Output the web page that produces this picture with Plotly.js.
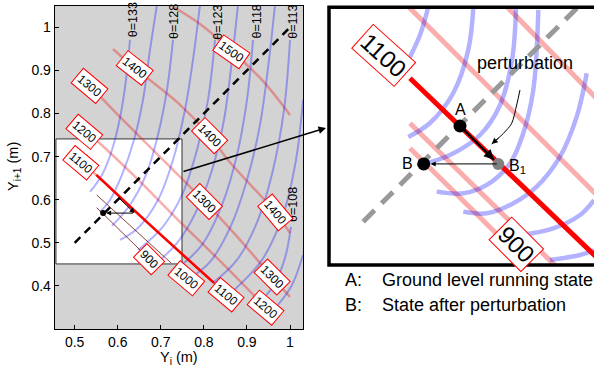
<!DOCTYPE html>
<html><head><meta charset="utf-8">
<script src="https://cdn.plot.ly/plotly-3.0.1.min.js"></script>
<style>html,body{margin:0;padding:0;background:#fff}</style>
</head><body><div id="g" style="width:594px;height:371px"></div>
<script>
// ---------- main plot: energy contours (pale red) ----------
const e1500X=[0.7213,0.791,0.8676,0.935,1.0], e1500Y=[1.052,1.0079,0.9429,0.878,0.7968];
const e1400X=[0.5889,0.6393,0.7399,0.8142,0.856,0.9652,1.0], e1400Y=[0.9499,0.9058,0.8246,0.748,0.6923,0.5717,0.523];
const e1300X=[0.5077,0.5355,0.5959,0.6981,0.8026,0.8839,0.9582,1.0], e1300Y=[0.8872,0.864,0.8014,0.6993,0.5949,0.5067,0.4209,0.3745];
const e1200X=[0.5007,0.5581,0.6431,0.7399,0.8421,0.9443], e1200Y=[0.7805,0.7311,0.6506,0.5531,0.4534,0.349];
const e1100X=[0.4937,0.5153,0.5502,0.6749,0.8235,0.8537], e1100Y=[0.6993,0.6861,0.6575,0.5415,0.407,0.3791];
const bold1100X=[0.5502,0.6749,0.8235], bold1100Y=[0.6575,0.5415,0.407];
const e1000X=[0.5511,0.7236], e1000Y=[0.6111,0.4534];
const e900X=[0.5511,0.6517], e900Y=[0.5817,0.4835];
// ---------- main plot: theta contours (pale blue) ----------
const thetaCurves=[
 {x:[0.6284,0.6191,0.6052,0.5866,0.5634,0.5355], y:[0.9708,0.878,0.7898,0.7155,0.6575,0.6181]},
 {x:[0.6911,0.6749,0.6586,0.6377,0.6098,0.582,0.5588], y:[1.052,0.9476,0.8316,0.7387,0.6575,0.5995,0.5717]},
 {x:[0.7283,0.7143,0.6934,0.6656,0.6284,0.5866], y:[0.9708,0.8548,0.7503,0.6575,0.5879,0.5392]},
 {x:[0.791,0.7747,0.7561,0.7283,0.6934,0.647,0.6052], y:[1.052,0.9244,0.8084,0.6923,0.5995,0.5346,0.5067]},
 {x:[0.8258,0.8096,0.784,0.7492,0.7027,0.647], y:[0.9708,0.8316,0.7155,0.6111,0.5346,0.4835]},
 {x:[0.8792,0.8653,0.8467,0.8189,0.7817,0.7399,0.6934], y:[1.052,0.9244,0.7851,0.6691,0.5717,0.5021,0.4557]},
 {x:[0.9141,0.9001,0.8769,0.8421,0.7956,0.7399], y:[0.9708,0.8316,0.704,0.5879,0.4951,0.4418]},
 {x:[0.9652,0.9512,0.9303,0.9001,0.8607,0.8142,0.7724], y:[1.052,0.9244,0.7736,0.6459,0.5346,0.4557,0.4209]},
 {x:[1.0,0.9861,0.9605,0.9257,0.8769,0.8212], y:[0.9708,0.8084,0.6691,0.5531,0.4603,0.407]},
 {x:[1.0302,1.0139,0.9837,0.935,0.8653], y:[0.8316,0.6923,0.5647,0.4603,0.3861]},
 {x:[1.0023,0.9884,0.9628,0.935], y:[0.5369,0.465,0.4023,0.3675]},
 {x:[1.0302,1.0046,0.9721], y:[0.4719,0.4023,0.3559]}
];
const thetaLabels=['θ=133','θ=128','θ=123','θ=118','θ=113','θ=108'];
const thetaLabX=[0.6361,0.729,0.8328,0.9227,1.007,1.007];
const thetaLabY=[1.0172,1.0132,1.0132,1.0132,1.0132,0.5879];
const eLabels=['1500','1400','1400','1400','1300','1300','1300','1200','1200','1100','1100','1000','900'];
const eLabX=[0.8646,0.6393,0.8142,0.9652,0.5348,0.8026,0.9589,0.5232,0.9442,0.5153,0.852,0.7585,0.6719];
const eLabY=[0.9436,0.9051,0.748,0.5717,0.864,0.5956,0.4216,0.758,0.349,0.6861,0.3791,0.4186,0.4619];
const eLabAng=[35,38,45,50,40,45,45,40,40,40,40,40,45];
const diagX=[0.5,1.0], diagY=[0.5,1.0];
const ptA=[0.601,0.606], ptB1=[0.639,0.569], ptB=[0.566,0.569];
const insetBox=[0.4565,0.7492,0.451,0.7411];
// ---------- zoom panel ----------
const zRed1X=[0.55,0.73], zRed1Y=[0.7216,0.5416];
const zRed2X=[0.645,0.73], zRed2Y=[0.7161,0.6291];
const zRed3X=[0.5595,0.6898,0.71], zRed3Y=[0.6075,0.4802,0.46];
const zRed4X=[0.5595,0.6656,0.69], zRed4Y=[0.5847,0.4802,0.456];
const zBoldX=[0.5595,0.605,0.6398,0.7216,0.735], zBoldY=[0.6484,0.605,0.5705,0.4923,0.48];
const zBlue=[
 {x:[0.5759,0.5686,0.5595], y:[0.7123,0.6877,0.6677]},
 {x:[0.6171,0.6125,0.5989,0.5777,0.558], y:[0.7123,0.6741,0.635,0.6077,0.595]},
 {x:[0.6559,0.6523,0.6414,0.6232,0.5959,0.5686], y:[0.7123,0.665,0.6241,0.5968,0.5786,0.5695]},
 {x:[0.6762,0.6716,0.6625,0.6505,0.6293,0.608,0.5838], y:[0.7105,0.6377,0.5984,0.5711,0.5514,0.5438,0.5453]},
 {x:[0.7202,0.7111,0.6959,0.6747,0.6535,0.6293,0.608], y:[0.6529,0.6135,0.5771,0.5498,0.5347,0.5256,0.5271]},
 {x:[0.6595,0.6898,0.7141,0.7268], y:[0.5059,0.512,0.5241,0.5377]},
 {x:[0.6868,0.7141,0.7268], y:[0.4832,0.4877,0.492]}
];
const zDiagX=[0.517,0.73], zDiagY=[0.518,0.731];
const zA=[0.605,0.605], zB=[0.572,0.5705], zB1=[0.6398,0.5705];
const pertX=[0.6595,0.6565,0.652,0.6474,0.6414,0.6338], pertY=[0.6377,0.6241,0.6075,0.6014,0.5953,0.5886];

const pr='rgba(240,0,0,0.32)', pb='rgba(0,0,255,0.3)';
const traces=[];
function ln(x,y,color,w,ax,extra){const t={x:x,y:y,mode:'lines',line:{color:color,width:w,shape:'spline'},xaxis:ax[0],yaxis:ax[1],hoverinfo:'skip'};Object.assign(t.line,extra||{});traces.push(t);}
const M=['x','y'], Z=['x2','y2'];
[[e1500X,e1500Y],[e1400X,e1400Y],[e1300X,e1300Y],[e1200X,e1200Y],[e1100X,e1100Y]].forEach(p=>ln(p[0],p[1],pr,2.5,M));
thetaCurves.forEach(c=>ln(c.x,c.y,pb,2,M));
ln(bold1100X,bold1100Y,'#ff0000',2.5,M);
ln(e1000X,e1000Y,'rgba(120,30,30,0.85)',1,M);
ln(e900X,e900Y,'rgba(120,30,30,0.85)',1,M);
ln(diagX,diagY,'#000',2.5,M,{dash:'8px,6px',shape:'linear'});
traces.push({x:[ptB[0]],y:[ptB[1]],mode:'markers',marker:{color:'#000',size:6},xaxis:'x',yaxis:'y'});
// panel
[[zRed1X,zRed1Y],[zRed2X,zRed2Y],[zRed3X,zRed3Y],[zRed4X,zRed4Y]].forEach(p=>ln(p[0],p[1],pr,5,Z,{shape:'linear'}));
zBlue.forEach(c=>ln(c.x,c.y,pb,4.5,Z));
ln(zDiagX,zDiagY,'#999',5,Z,{dash:'16px,10px',shape:'linear'});
ln(zBoldX,zBoldY,'#ff0000',5,Z,{shape:'linear'});
ln([zA[0],zB1[0]],[zA[1],zB1[1]],'#000',2,Z,{shape:'linear'});
ln(pertX,pertY,'#000',1,Z);
traces.push({x:[zA[0],zB[0]],y:[zA[1],zB[1]],mode:'markers',marker:{color:'#000',size:13},xaxis:'x2',yaxis:'y2'});
traces.push({x:[zB1[0]],y:[zB1[1]],mode:'markers',marker:{color:'#808080',size:12},xaxis:'x2',yaxis:'y2'});

const F='Liberation Sans, Arial, sans-serif';
const ann=[];
thetaLabels.forEach((t,i)=>ann.push({x:thetaLabX[i],y:thetaLabY[i],xref:'x',yref:'y',text:t,showarrow:false,textangle:-90,font:{family:F,size:12.5,color:'#000'}}));
eLabels.forEach((t,i)=>ann.push({x:eLabX[i],y:eLabY[i],xref:'x',yref:'y',text:t,showarrow:false,textangle:eLabAng[i],font:{family:F,size:12,color:'#000'},bgcolor:'#fff',bordercolor:'#ff0000',borderwidth:1,borderpad:2}));
// main arrows
ann.push({x:ptB1[0],y:ptB1[1],ax:ptA[0],ay:ptA[1],xref:'x',yref:'y',axref:'x',ayref:'y',showarrow:true,arrowhead:2,arrowsize:1,arrowwidth:1,arrowcolor:'#000',text:''});
ann.push({x:ptB[0],y:ptB[1],ax:ptB1[0],ay:ptB1[1],xref:'x',yref:'y',axref:'x',ayref:'y',showarrow:true,arrowhead:2,arrowsize:1,arrowwidth:1,arrowcolor:'#000',text:'',standoff:3});
// connector
ann.push({x:326/594,y:1-128/371,xref:'paper',yref:'paper',ax:-144,ay:44,showarrow:true,arrowhead:2,arrowsize:1,arrowwidth:1.5,arrowcolor:'#000',text:''});
// panel annotations
ann.push({x:0.5359,y:0.6695,xref:'x2',yref:'y2',text:'1100',showarrow:false,textangle:42,font:{family:F,size:24,color:'#000'},bgcolor:'#fff',bordercolor:'#ff0000',borderwidth:1,borderpad:2});
ann.push({x:0.6562,y:0.497,xref:'x2',yref:'y2',text:'900',showarrow:false,textangle:45,font:{family:F,size:24,color:'#000'},bgcolor:'#fff',bordercolor:'#ff0000',borderwidth:1,borderpad:2});
ann.push({x:0.6641,y:0.662,xref:'x2',yref:'y2',text:'perturbation',showarrow:false,font:{family:F,size:18,color:'#000'}});
ann.push({x:zB1[0],y:zB1[1],ax:zA[0],ay:zA[1],xref:'x2',yref:'y2',axref:'x2',ayref:'y2',showarrow:true,arrowhead:2,arrowsize:1,arrowwidth:2,arrowcolor:'#000',text:'',standoff:6});
ann.push({x:zB[0],y:zB[1],ax:zB1[0],ay:zB1[1],xref:'x2',yref:'y2',axref:'x2',ayref:'y2',showarrow:true,arrowhead:2,arrowsize:1,arrowwidth:1,arrowcolor:'#000',text:'',standoff:7});
ann.push({x:0.6338,y:0.5886,ax:0.6414,ay:0.5953,xref:'x2',yref:'y2',axref:'x2',ayref:'y2',showarrow:true,arrowhead:2,arrowsize:1.2,arrowwidth:1,arrowcolor:'#000',text:''});
ann.push({x:zA[0],y:zA[1]+0.015,xref:'x2',yref:'y2',text:'A',showarrow:false,font:{family:F,size:16,color:'#000'}});
ann.push({x:zB[0]-0.0145,y:zB[1]+0.0008,xref:'x2',yref:'y2',text:'B',showarrow:false,font:{family:F,size:16,color:'#000'}});
ann.push({x:zB1[0]+0.0075,y:zB1[1]-0.002,xref:'x2',yref:'y2',xanchor:'left',text:'B<sub>1</sub>',showarrow:false,font:{family:F,size:16,color:'#000'}});
// legend text
const P=(o)=>Object.assign({xref:'paper',yref:'paper',showarrow:false,yanchor:'middle'},o);
ann.push(P({x:343/594,y:1-280/371,xanchor:'left',text:'A:',font:{family:F,size:18,color:'#000'}}));
ann.push(P({x:380/594,y:1-280/371,xanchor:'left',text:'Ground level running state',font:{family:F,size:18,color:'#000'}}));
ann.push(P({x:343/594,y:1-305/371,xanchor:'left',text:'B:',font:{family:F,size:18,color:'#000'}}));
ann.push(P({x:380/594,y:1-305/371,xanchor:'left',text:'State after perturbation',font:{family:F,size:18,color:'#000'}}));
// axis titles
ann.push(P({x:14/594,y:1-167/371,xanchor:'center',text:'Y<sub>i+1</sub> (m)',textangle:-90,font:{family:F,size:14.5,color:'#000'}}));
ann.push(P({x:179/594,y:1-358/371,xanchor:'center',text:'Y<sub>i</sub> (m)',font:{family:F,size:14.5,color:'#000'}}));

const layout={
 width:594,height:371,margin:{l:0,r:0,t:0,b:0},paper_bgcolor:'#fff',plot_bgcolor:'#fff',showlegend:false,
 font:{family:F,size:14,color:'#000'},
 xaxis:{domain:[54.7/594,303/594],range:[0.4536,1.0302],tickvals:[0.5,0.6,0.7,0.8,0.9,1],ticktext:['0.5','0.6','0.7','0.8','0.9','1'],ticks:'inside',ticklen:4,tickcolor:'#000',showline:true,linecolor:'#000',linewidth:1,mirror:true,showgrid:false,zeroline:false,tickfont:{size:14},anchor:'y'},
 yaxis:{domain:[1-329/371,1-5.7/371],range:[0.3,1.0503],tickvals:[0.4,0.5,0.6,0.7,0.8,0.9,1],ticktext:['0.4','0.5','0.6','0.7','0.8','0.9','1'],ticks:'inside',ticklen:4,tickcolor:'#000',showline:true,linecolor:'#000',linewidth:1,mirror:true,showgrid:false,zeroline:false,tickfont:{size:14},anchor:'x'},
 xaxis2:{domain:[329/594,1],range:[0.4859,0.7268],visible:false,anchor:'y2'},
 yaxis2:{domain:[1-265/371,1-7.3/371],range:[0.4786,0.7129],visible:false,anchor:'x2'},
 shapes:[
  {type:'rect',xref:'x domain',yref:'y domain',x0:0,x1:1,y0:0,y1:1,fillcolor:'rgb(211,211,211)',line:{width:0},layer:'below'},
  {type:'rect',xref:'x',yref:'y',x0:insetBox[0],x1:insetBox[1],y0:insetBox[2],y1:insetBox[3],fillcolor:'#fff',line:{color:'#333',width:1},layer:'below'},
  {type:'rect',xref:'paper',yref:'paper',x0:329/594,x1:1.02,y0:1-265/371,y1:1-7.3/371,line:{color:'#000',width:3.5},fillcolor:'rgba(0,0,0,0)',layer:'above'}
 ],
 annotations:ann
};
Plotly.newPlot('g',traces,layout,{staticPlot:true,displayModeBar:false});
</script></body></html>
